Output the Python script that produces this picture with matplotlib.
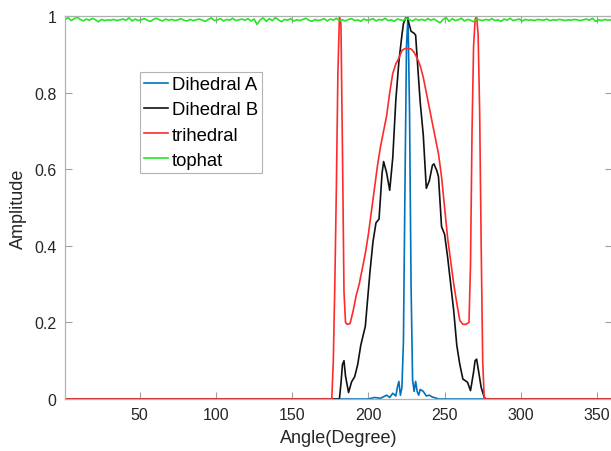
import numpy as np
import matplotlib
matplotlib.use('Agg')
import matplotlib.pyplot as plt

plt.rcParams['font.family'] = ['Liberation Sans', 'DejaVu Sans']

# dihedral A (blue): narrow spike at ~226 deg
dihA_deg = [1, 200, 204, 208, 212, 214, 216, 218, 219, 220, 221, 222, 223, 224, 225, 226,
            227, 228, 229, 230, 231, 232, 233, 234, 236, 238, 240, 242, 244, 246, 360]
dihA_amp = [0, 0, 0.004, 0.002, 0.01, 0.004, 0.015, 0.008, 0.03, 0.046, 0.01, 0.03, 0.15,
            0.55, 0.92, 1.0, 0.75, 0.3, 0.05, 0.02, 0.046, 0.02, 0.01, 0.025, 0.02, 0.008,
            0.01, 0.005, 0.003, 0, 0]

# dihedral B (black)
dihB_deg = [1, 181, 182, 183, 184, 185, 187, 189, 191, 193, 195, 198, 201, 203, 205, 207,
            209, 210, 212, 214, 216, 218, 220, 222, 223, 225, 226, 228, 230, 231, 232, 234,
            236, 238, 240, 242, 243, 245, 246, 248, 250, 252, 254, 256, 258, 260, 262, 265,
            267, 269, 270, 271, 272, 274, 276, 277, 360]
dihB_amp = [0, 0, 0.04, 0.09, 0.10, 0.06, 0.017, 0.045, 0.058, 0.09, 0.14, 0.19, 0.33, 0.41,
            0.46, 0.47, 0.59, 0.62, 0.59, 0.545, 0.63, 0.78, 0.88, 0.95, 0.98, 1.0, 0.99,
            0.96, 0.955, 0.95, 0.89, 0.775, 0.69, 0.55, 0.57, 0.61, 0.614, 0.595, 0.58,
            0.45, 0.43, 0.37, 0.30, 0.23, 0.14, 0.09, 0.052, 0.044, 0.022, 0.07, 0.10,
            0.104, 0.08, 0.03, 0.005, 0, 0]

# trihedral (red)
tri_deg = [1, 176, 177, 178, 179, 180, 181, 182, 183, 184, 185, 186, 188, 190, 192, 194,
           196, 198, 200, 202, 204, 206, 208, 210, 212, 214, 216, 218, 220, 222, 224, 226,
           228, 230, 232, 234, 236, 238, 240, 242, 244, 246, 248, 250, 252, 254, 256, 258,
           260, 262, 264, 266, 267, 268, 269, 270, 271, 272, 273, 274, 275, 276, 360]
tri_amp = [0, 0, 0.1, 0.3, 0.55, 0.85, 1.0, 0.98, 0.65, 0.28, 0.2, 0.195, 0.197, 0.23,
           0.27, 0.30, 0.34, 0.38, 0.43, 0.49, 0.55, 0.61, 0.66, 0.70, 0.74, 0.80, 0.85,
           0.875, 0.89, 0.91, 0.915, 0.915, 0.914, 0.905, 0.89, 0.87, 0.84, 0.80, 0.76,
           0.72, 0.68, 0.64, 0.58, 0.50, 0.42, 0.36, 0.30, 0.25, 0.205, 0.195, 0.195, 0.2,
           0.35, 0.7, 0.92, 0.99, 1.0, 0.95, 0.75, 0.4, 0.1, 0, 0]

# tophat (green), every 2 degrees from 1 to 359
tophat_amp = [
    0.990, 0.996, 0.988, 0.993, 0.997, 0.991, 0.987, 0.992, 0.989, 0.994, 0.990, 0.985, 0.991, 0.988, 0.990, 0.989, 0.991, 0.988, 0.990, 0.992,
    0.989, 0.995, 0.987, 0.992, 0.988, 0.990, 0.993, 0.989, 0.986, 0.991, 0.994, 0.990, 0.987, 0.992, 0.989, 0.991, 0.988, 0.990, 0.993, 0.989,
    0.987, 0.991, 0.988, 0.990, 0.992, 0.989, 0.986, 0.991, 0.995, 0.988, 0.990, 0.993, 0.987, 0.991, 0.989, 0.994, 0.988, 0.990, 0.992, 0.989,
    0.993, 0.987, 0.992, 0.978, 0.990, 0.995, 0.986, 0.993, 0.988, 0.996, 0.990, 0.985, 0.991, 0.989, 0.993, 0.987, 0.990, 0.988, 0.991, 0.994,
    0.989, 0.986, 0.991, 0.988, 0.990, 0.993, 0.987, 0.992, 0.989, 0.994, 0.988, 0.990, 0.987, 0.991, 0.993, 0.988, 0.990, 0.986, 0.992, 0.989,
    0.990, 0.993, 0.987, 0.991, 0.989, 0.994, 0.988, 0.990, 0.986, 0.992, 0.990, 0.988, 0.995, 0.990, 0.987, 0.992, 0.989, 0.991, 0.988, 0.993,
    0.989, 0.992, 0.987, 0.982, 0.991, 0.996, 0.986, 0.993, 0.988, 0.990, 0.994, 0.987, 0.991, 0.989, 0.985, 0.992, 0.990, 0.988, 0.991, 0.989,
    0.993, 0.988, 0.990, 0.986, 0.992, 0.989, 0.994, 0.988, 0.990, 0.992, 0.987, 0.991, 0.989, 0.990, 0.988, 0.991, 0.990, 0.989, 0.992, 0.988,
    0.990, 0.989, 0.991, 0.990, 0.988, 0.990, 0.989, 0.991, 0.990, 0.988, 0.990, 0.992, 0.989, 0.994, 0.986, 0.990, 0.988, 0.991, 0.989, 0.990,
]
tophat_deg = np.arange(1, 360, 2)

x_ticks = [50, 100, 150, 200, 250, 300, 350]
y_ticks = [0, 0.2, 0.4, 0.6, 0.8, 1]

fig = plt.figure(figsize=(6.11, 4.52), dpi=100)
ax = fig.add_axes([0.1064, 0.115, 0.8957, 0.8474])

ax.plot(dihA_deg, dihA_amp, color='#0072BD', lw=1.2, label='Dihedral A')
ax.plot(dihB_deg, dihB_amp, color='#111111', lw=1.2, label='Dihedral B')
ax.plot(tri_deg, tri_amp, color='#ff2a2a', lw=1.2, label='trihedral')
ax.plot(tophat_deg, tophat_amp, color='#22e622', lw=1.2, label='tophat')

ax.set_xlim(1, 360)
ax.set_ylim(0, 1)
ax.set_xticks(x_ticks)
ax.set_yticks(y_ticks)
ax.set_yticklabels(['0', '0.2', '0.4', '0.6', '0.8', '1'])
ax.tick_params(direction='in', length=5, width=0.8, colors='#a0a0a0',
               labelcolor='#262626', labelsize=11.5, top=True, right=True, pad=6)
for s in ax.spines.values():
    s.set_color('#b0b0b0')
    s.set_linewidth(0.9)

ax.set_xlabel('Angle(Degree)', fontsize=13, color='#262626', labelpad=5)
ax.set_ylabel('Amplitude', fontsize=13, color='#262626', labelpad=5)

leg = ax.legend(loc='upper left', bbox_to_anchor=(0.137, 0.854), borderaxespad=0,
                fontsize=13.3, frameon=True, fancybox=False, handlelength=1.3,
                handletextpad=0.2, labelspacing=0.45, borderpad=0.22)
leg.get_frame().set_edgecolor('#a0a0a0')
leg.get_frame().set_linewidth(0.8)

fig.savefig('out.png', dpi=100)
